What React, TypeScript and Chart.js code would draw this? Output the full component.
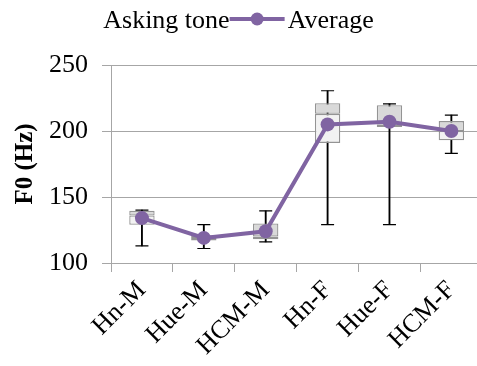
import React, { useEffect, useRef } from "react";
import { Chart, registerables } from "chart.js";

Chart.register(...registerables);

// Speaker groups (region + sex)
const categories = ["Hn-M", "Hue-M", "HCM-M", "Hn-F", "Hue-F", "HCM-F"];

// F0 distribution per group (Hz)
const whiskerMin = [113, 111, 116, 129, 129, 183];
const q1 = [129, 117, 118, 191, 203, 193];
const median = [136, 119, 120, 213, 205, 200];
const q3 = [139.5, 121, 130, 221, 219.5, 207.5];
const whiskerMax = [140, 129, 139.5, 230.5, 220.5, 212];
const average = [134, 119, 124, 205, 207, 200];

const yTicks = [100, 150, 200, 250];

const groupLabel = "Asking tone";
const averageLabel = "Average";
const yTitle = "F0 (Hz)";

const PURPLE = "#8064A2";
const AXIS_GRAY = "#a6a6a6";
const BOX_EDGE = "#949494";
const FONT = '"Liberation Serif", "Times New Roman", serif';
const VIEW_W = 477;
const VIEW_H = 366;
const CANVAS_W = 490;

// Legend row: group label, line+marker symbol, series label
const legendRow = {
  id: "legendRow",
  afterDraw(chart: any) {
    const ctx = chart.ctx as CanvasRenderingContext2D;
    ctx.save();
    ctx.font = `26px ${FONT}`;
    ctx.fillStyle = "#000";
    ctx.textBaseline = "alphabetic";
    const w1 = ctx.measureText(groupLabel).width;
    const w2 = ctx.measureText(averageLabel).width;
    const sym = 55;
    const gap = 3;
    const total = w1 + sym + gap + w2;
    let x = VIEW_W / 2 - total / 2;
    const baseline = 28;
    const midY = 19;
    ctx.fillText(groupLabel, x, baseline);
    x += w1;
    ctx.strokeStyle = PURPLE;
    ctx.lineWidth = 4;
    ctx.beginPath();
    ctx.moveTo(x, midY);
    ctx.lineTo(x + sym, midY);
    ctx.stroke();
    ctx.fillStyle = PURPLE;
    ctx.beginPath();
    ctx.arc(x + sym / 2, midY, 6.5, 0, Math.PI * 2);
    ctx.fill();
    x += sym + gap;
    ctx.fillStyle = "#000";
    ctx.fillText(averageLabel, x, baseline);
    ctx.restore();
  },
};

export default function App() {
  const canvasRef = useRef<HTMLCanvasElement | null>(null);

  useEffect(() => {
    if (!canvasRef.current) return;
    const lowerBox = categories.map((_, i) => [q1[i], median[i]]);
    const upperBox = categories.map((_, i) => [median[i], q3[i]]);
    const whiskers = categories.map((_, i) => [whiskerMin[i], whiskerMax[i]]);

    const chart = new Chart(canvasRef.current, {
      type: "bar",
      data: {
        labels: categories,
        datasets: [
          {
            type: "line",
            label: averageLabel,
            data: average,
            borderColor: PURPLE,
            backgroundColor: PURPLE,
            borderWidth: 4,
            pointRadius: 7,
            pointBackgroundColor: PURPLE,
            pointBorderWidth: 0,
            tension: 0,
            order: 0,
          } as any,
          {
            type: "bar",
            label: "Q3",
            data: upperBox as any,
            backgroundColor: "#d9d9d9",
            borderColor: BOX_EDGE,
            borderWidth: 1.3,
            borderSkipped: false,
            grouped: false,
            barPercentage: 0.41,
            categoryPercentage: 1,
            order: 2,
          } as any,
          {
            type: "bar",
            label: "Q1",
            data: lowerBox as any,
            backgroundColor: "#f2f2f2",
            borderColor: BOX_EDGE,
            borderWidth: 1.3,
            borderSkipped: false,
            grouped: false,
            barPercentage: 0.41,
            categoryPercentage: 1,
            order: 2,
          } as any,
          {
            type: "line",
            label: "Max",
            data: whiskerMax,
            showLine: false,
            pointStyle: "line",
            pointRadius: 6.5,
            pointBorderColor: "#000",
            pointBorderWidth: 1.2,
            order: 3,
          } as any,
          {
            type: "line",
            label: "Min",
            data: whiskerMin,
            showLine: false,
            pointStyle: "line",
            pointRadius: 6.5,
            pointBorderColor: "#000",
            pointBorderWidth: 1.2,
            order: 3,
          } as any,
          {
            type: "bar",
            label: "Range",
            data: whiskers as any,
            backgroundColor: "#000",
            borderWidth: 0,
            grouped: false,
            barThickness: 1.2,
            order: 4,
          } as any,
        ],
      },
      options: {
        responsive: false,
        animation: false,
        layout: { padding: { top: 65, right: 4, left: 0, bottom: 0 } },
        plugins: {
          legend: { display: false },
          tooltip: { enabled: false },
        },
        scales: {
          x: {
            offset: true,
            grid: {
              offset: true,
              drawOnChartArea: false,
              drawTicks: true,
              tickLength: 9,
              color: AXIS_GRAY,
            },
            border: { color: AXIS_GRAY, width: 1 },
            ticks: {
              autoSkip: false,
              maxRotation: 45,
              minRotation: 45,
              padding: 3,
              color: "#000",
              font: { family: FONT, size: 26 },
            },
            afterFit: (s: any) => {
              s.height = 103;
            },
          },
          y: {
            min: yTicks[0],
            max: yTicks[yTicks.length - 1],
            afterBuildTicks: (s: any) => {
              s.ticks = yTicks.map((v) => ({ value: v }));
            },
            grid: {
              color: AXIS_GRAY,
              tickLength: 9,
              drawTicks: true,
            },
            border: { color: AXIS_GRAY, width: 1 },
            ticks: {
              padding: 14,
              color: "#000",
              font: { family: FONT, size: 26 },
            },
            title: {
              display: true,
              text: yTitle,
              color: "#000",
              padding: { top: 11, bottom: 0 },
              font: { family: FONT, size: 25, weight: "bold" },
            },
            afterFit: (s: any) => {
              s.width = 111;
            },
          },
        },
      },
      plugins: [legendRow],
    });
    return () => chart.destroy();
  }, []);

  return (
    <div
      style={{
        position: "fixed",
        left: 0,
        top: 0,
        width: VIEW_W,
        height: VIEW_H,
        overflow: "hidden",
        background: "#fff",
      }}
    >
      <canvas
        ref={canvasRef}
        width={CANVAS_W}
        height={VIEW_H}
        style={{ display: "block", width: CANVAS_W, height: VIEW_H }}
      />
    </div>
  );
}
